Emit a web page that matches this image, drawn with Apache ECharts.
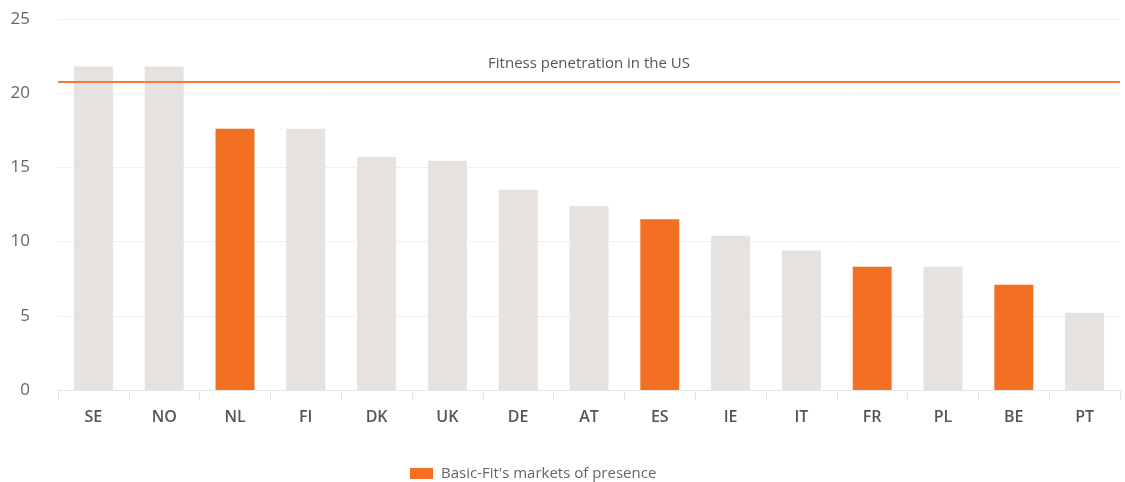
<!DOCTYPE html>
<html>
<head>
<meta charset="utf-8">
<script src="https://cdn.jsdelivr.net/npm/echarts@6/dist/echarts.min.js"></script>
<style>
  html, body { margin: 0; padding: 0; background: #fff; }
  #chart { width: 1125px; height: 482px; }
</style>
</head>
<body>
<div id="chart"></div>
<script>
// 国家与健身渗透率
const countries = ['SE', 'NO', 'NL', 'FI', 'DK', 'UK', 'DE', 'AT', 'ES', 'IE', 'IT', 'FR', 'PL', 'BE', 'PT'];
const penetration = [21.8, 21.8, 17.6, 17.6, 15.7, 15.45, 13.5, 12.4, 11.5, 10.4, 9.4, 8.3, 8.3, 7.1, 5.2];
// Basic-Fit 所在市场
const presence = [false, false, true, false, false, false, false, false, true, false, false, true, false, true, false];
const usPenetration = 20.8;

const ORANGE = '#f36f21';
const GREY = '#e5e2df';

const chart = echarts.init(document.getElementById('chart'));

const otherData = penetration.map((v, i) => presence[i] ? '-' : v);
const basicData = penetration.map((v, i) => presence[i] ? v : '-');

const option = {
    animation: false,
    textStyle: { fontFamily: 'Open Sans' },
    grid: { left: 58, right: 5, top: 19, bottom: 92 },
    legend: {
        data: ["Basic-Fit's markets of presence"],
        left: 405,
        top: 461,
        itemWidth: 23,
        itemHeight: 11,
        itemGap: 10,
        icon: 'rect',
        textStyle: { color: '#666', fontSize: 15, fontFamily: 'Open Sans', padding: [0, 0, 0, 3] }
    },
    xAxis: {
        type: 'category',
        data: countries,
        axisLine: { lineStyle: { color: '#e6e6e6' } },
        axisTick: { show: true, length: 10, lineStyle: { color: '#e6e6e6' } },
        axisLabel: { color: '#555', fontSize: 16, fontWeight: 600, margin: 19 }
    },
    yAxis: {
        type: 'value',
        min: 0,
        max: 25,
        interval: 5,
        axisLabel: { color: '#666', fontSize: 17, margin: 28 },
        splitLine: { lineStyle: { color: '#f0f0f0' } }
    },
    series: [
        {
            name: 'Other',
            type: 'bar',
            data: otherData,
            barWidth: '55%',
            barGap: '-100%',
            itemStyle: { color: GREY },
            markLine: {
                silent: true,
                symbol: 'none',
                data: [{ yAxis: usPenetration }],
                lineStyle: { color: '#f47a3a', width: 2, type: 'solid' },
                label: {
                    show: true,
                    position: 'middle',
                    formatter: 'Fitness penetration in the US',
                    color: '#555',
                    fontSize: 15,
                    distance: 10
                }
            }
        },
        {
            name: "Basic-Fit's markets of presence",
            type: 'bar',
            data: basicData,
            barWidth: '55%',
            barGap: '-100%',
            itemStyle: { color: ORANGE }
        }
    ]
};

chart.setOption(option);
</script>
</body>
</html>
